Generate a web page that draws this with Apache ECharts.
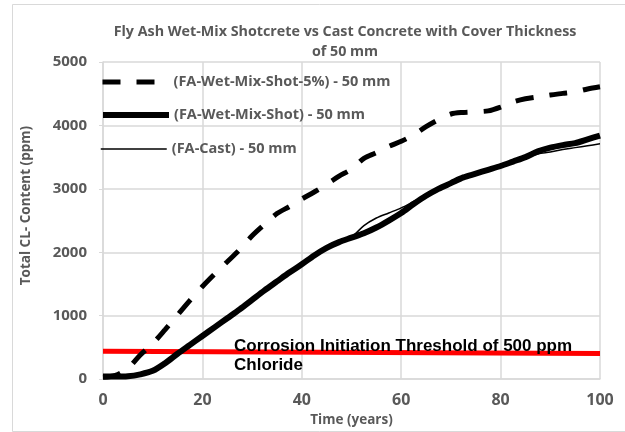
<!DOCTYPE html>
<html>
<head>
<meta charset="utf-8">
<script src="https://cdn.jsdelivr.net/npm/echarts@6/dist/echarts.min.js"></script>
<style>html,body{margin:0;padding:0;background:#fff;}#c{width:625px;height:432px;}</style>
</head>
<body>
<div id="c"></div>
<script>
const years = [0,2.5,5,7.5,10,12.5,15,17.5,20,22.5,25,27.5,30,32.5,35,37.5,40,42.5,45,47.5,50,52.5,55,57.5,60,62.5,65,67.5,70,72.5,75,77.5,80,82.5,85,87.5,90,92.5,95,97.5,100];
const shot5 = [30,60,170,380,560,780,1010,1240,1460,1660,1850,2040,2260,2440,2610,2720,2840,2950,3070,3200,3310,3480,3570,3670,3750,3850,3980,4090,4180,4205,4215,4230,4290,4370,4420,4450,4480,4505,4530,4575,4610];
const shot = [40,40,45,75,130,250,400,540,680,820,960,1100,1250,1400,1540,1680,1810,1950,2070,2160,2230,2300,2390,2500,2620,2760,2890,3000,3090,3180,3240,3300,3360,3430,3500,3590,3650,3690,3720,3780,3840];
const cast = [40,40,45,75,130,250,400,540,680,820,960,1100,1250,1400,1540,1680,1810,1950,2070,2160,2240,2420,2540,2620,2700,2800,2900,3000,3090,3180,3240,3300,3360,3430,3490,3550,3580,3620,3650,3680,3710];
const thrYears = [0,100];
const threshold = [440,405];
const xTicks = {min:0,max:100,interval:20};
const yTicks = {min:0,max:5000,interval:1000};
const names = ['(FA-Wet-Mix-Shot-5%) - 50 mm','(FA-Wet-Mix-Shot) - 50 mm','(FA-Cast) - 50 mm'];
const titleText = 'Fly Ash Wet-Mix Shotcrete vs Cast Concrete with Cover Thickness\nof 50 mm';
const noteText = 'Corrosion Initiation Threshold of 500 ppm\nChloride';

const pair = (xs, ys) => xs.map((x,i)=>[x, ys[i]]);
const gray = '#595959';
const font = '"Open Sans"';
const legendBase = (name, top, ls) => ({
  data:[name], orient:'vertical', left:95, top:top, itemWidth:66, itemHeight:20, itemGap:0,
  textStyle:{color:gray, fontFamily:font, fontWeight:'bold', fontSize:14.5},
  itemStyle:{opacity:0}, lineStyle:ls, selectedMode:false
});

const chart = echarts.init(document.getElementById('c'), null, {renderer:'canvas'});
chart.setOption({
  animation:false,
  backgroundColor:'#fff',
  title:{text:titleText, left:340, top:17, textAlign:'center',
    textStyle:{color:gray, fontFamily:font, fontWeight:'bold', fontSize:14.3, lineHeight:20}},
  grid:{left:103, right:25, top:62, bottom:51},
  legend:[
    legendBase(names[0],69,{color:'#000', width:5, type:[18,16]}),
    legendBase(names[1],102,{color:'#000', width:6}),
    legendBase(names[2],136,{color:'#000', width:1.5})
  ],
  xAxis:{type:'value', min:xTicks.min, max:xTicks.max, interval:xTicks.interval,
    name:'Time (years)', nameLocation:'middle', nameGap:31,
    nameTextStyle:{color:gray, fontFamily:font, fontWeight:'bold', fontSize:13.5},
    axisLine:{lineStyle:{color:'#d9d9d9', width:1.5}}, axisTick:{show:false},
    axisLabel:{color:gray, fontFamily:font, fontWeight:'bold', fontSize:16, margin:13},
    splitLine:{lineStyle:{color:'#d9d9d9', width:1.5}}},
  yAxis:{type:'value', min:yTicks.min, max:yTicks.max, interval:yTicks.interval,
    name:'Total CL- Content (ppm)', nameLocation:'middle', nameGap:70,
    nameTextStyle:{color:gray, fontFamily:font, fontWeight:'bold', fontSize:13.5, padding:[0,0,0,30]},
    axisLine:{show:true, lineStyle:{color:'#d9d9d9', width:1.5}},
    axisTick:{show:true, length:4, lineStyle:{color:'#d9d9d9'}},
    axisLabel:{color:gray, fontFamily:font, fontWeight:'bold', fontSize:15, margin:16,
      formatter:(v)=>String(v)},
    splitLine:{lineStyle:{color:'#d9d9d9', width:1.5}}},
  series:[
    {name:'threshold', type:'line', data:pair(thrYears, threshold), symbol:'none',
      lineStyle:{color:'#ff0000', width:5}, z:1},
    {name:names[0], type:'line', data:pair(years, shot5), symbol:'none', smooth:0.3,
      lineStyle:{color:'#000', width:5, type:[18,16]}, itemStyle:{color:'#000'}, z:3},
    {name:names[1], type:'line', data:pair(years, shot), symbol:'none', smooth:0.3,
      lineStyle:{color:'#000', width:6}, itemStyle:{color:'#000'}, z:3},
    {name:names[2], type:'line', data:pair(years, cast), symbol:'none', smooth:0.3,
      lineStyle:{color:'#000', width:1.5}, itemStyle:{color:'#000'}, z:4}
  ],
  graphic:[
    {type:'rect', left:10, top:2, shape:{width:640, height:427}, silent:true,
      style:{fill:'none', stroke:'#d9d9d9', lineWidth:1}, z:-1},
    {type:'text', left:234, top:337, z:10,
      style:{text:noteText, fill:'#000', font:'bold 17px "Liberation Sans", Arial, sans-serif', lineHeight:19}}
  ]
});
</script>
</body>
</html>
